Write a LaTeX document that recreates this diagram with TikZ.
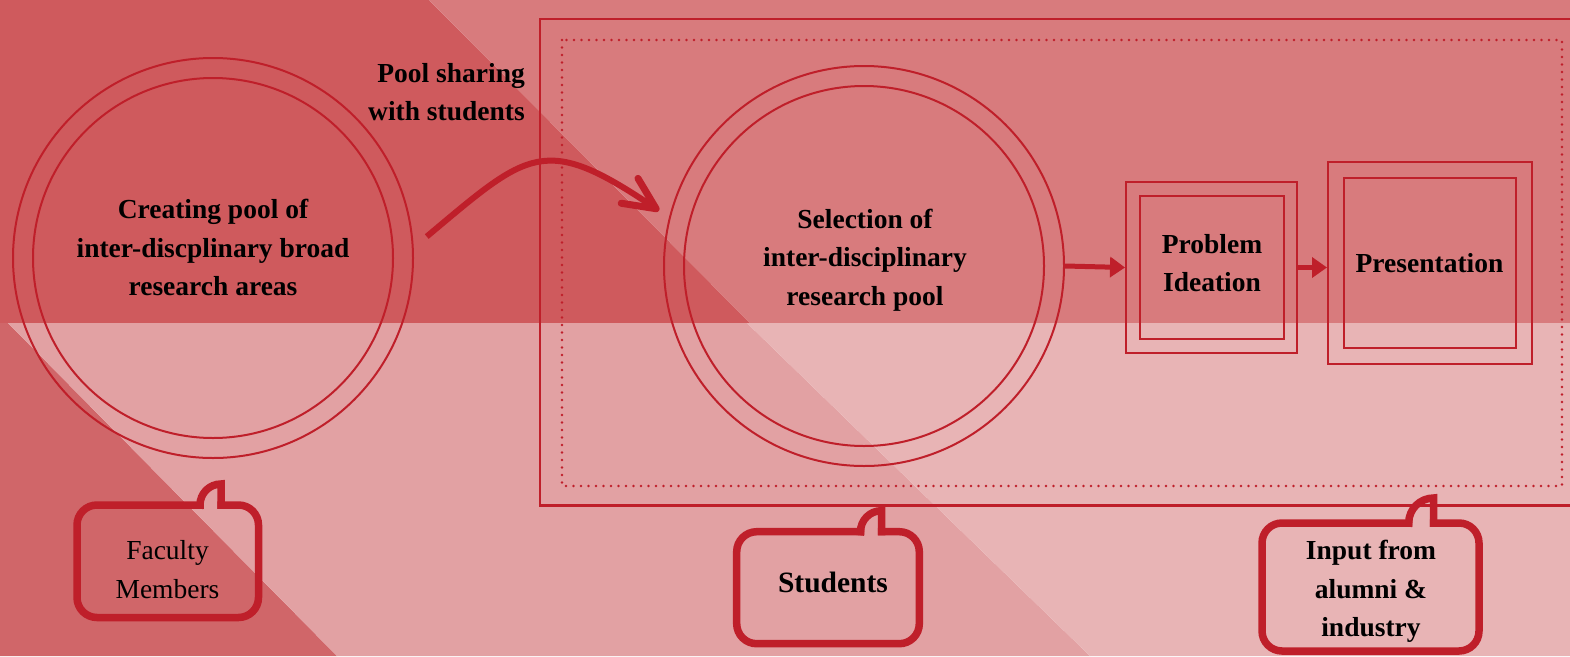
\documentclass[tikz,border=0pt]{standalone}
\usepackage{fontspec}
\setmainfont{Liberation Serif}
\usepackage{xcolor}
\usepackage{tikz}
\usetikzlibrary{positioning,calc,arrows.meta}

\definecolor{deepred}{RGB}{191,31,42}
\definecolor{shadeA}{RGB}{207,90,93}
\definecolor{shadeB}{RGB}{216,123,125}
\definecolor{shadeC}{RGB}{208,102,105}
\definecolor{shadeD}{RGB}{226,161,163}
\definecolor{shadeE}{RGB}{232,180,181}

\begin{document}
\begin{tikzpicture}[x=1pt, y=1pt,
    ring/.style={circle, draw=deepred, line width=2pt, minimum size=#1, inner sep=0pt},
    sqbox/.style 2 args={rectangle, draw=deepred, line width=2pt, minimum width=#1, minimum height=#2, inner sep=0pt},
    label txt/.style={font=\bfseries\fontsize{27.5}{38.5}\selectfont, align=center, inner sep=0pt},
    bubble/.style={draw=deepred, line width=7.5pt, line cap=rect},
    sweep/.style={draw=deepred, line width=6pt, -{Straight Barb[length=32pt, width=30pt, line width=7pt, round]}},
    link/.style={draw=deepred, line width=5pt, -{Triangle[length=15pt, width=20pt]}}
  ]
    \useasboundingbox (0,0) rectangle (1570,-656);

    % Background shades
    \fill [shadeA] (0,0) -- (429,0) -- (750,-323) -- (0,-323) -- cycle;
    \fill [shadeB] (429,0) -- (1570,0) -- (1570,-323) -- (750,-323) -- cycle;
    \fill [shadeC] (0,-323) -- (8,-323) -- (337,-656) -- (0,-656) -- cycle;
    \fill [shadeD] (8,-323) -- (747,-323) -- (1090,-656) -- (337,-656) -- cycle;
    \fill [shadeE] (747,-323) -- (1570,-323) -- (1570,-656) -- (1090,-656) -- cycle;

    % Faculty pool
    \node [ring=400pt] (pool) at (213,-258) {};
    \node [ring=360pt] (poolin) at (pool) {};
    \node [label txt] (pooltxt) at (213,-247.5) {Creating pool of\\inter-discplinary broad\\research areas};
    \node [label txt, align=right, anchor=east] (share) at (525,-92) {Pool sharing\\with students};

    % Student frame
    \draw [deepred, line width=2.5pt] (540,-19) rectangle (1590,-505.5);
    \draw [deepred, line width=2.8pt, line cap=round, dash pattern=on 0pt off 7.5pt] (562,-40) rectangle (1562,-486);

    % Selection
    \node [ring=400pt] (select) at (864,-266) {};
    \node [ring=360pt] (selectin) at (select) {};
    \node [label txt] (selecttxt) at (865,-260) {Selection of\\inter-disciplinary\\research pool};
    \draw [sweep, shorten <=17pt, shorten >=12pt] (pool.3) to [out=40, in=146, looseness=1.5] (select.166);

    % Problem and presentation
    \node [sqbox={171pt}{171pt}] (prob) at (1211.5,-267.5) {};
    \node [sqbox={144pt}{143pt}] (probin) at (prob) {};
    \node [label txt] (probtxt) at (1212,-263) {Problem\\Ideation};
    \node [sqbox={204pt}{202pt}] (pres) at (1430,-263) {};
    \node [sqbox={172pt}{170pt}] (presin) at (pres) {};
    \node [label txt] (prestxt) at (1429.5,-263) {Presentation};
    \draw [link] (select.east) -- (prob.west);
    \draw [link] (prob.east) -- (prob.east -| pres.west);

    % Speech bubbles
    \draw [bubble, rounded corners=20pt] (221,-505) -- (258.5,-505) -- (258.5,-617.5) -- (77,-617.5) -- (77,-505) -- (200,-505);
    \draw [bubble] (200,-505) arc [start angle=180, end angle=90, radius=21pt] -- (221,-505);
    \node [align=center, inner sep=0pt, font=\fontsize{27.5}{38.5}\selectfont] (fac) at (167.5,-569.5) {Faculty\\Members};

    \draw [bubble, rounded corners=20pt] (881.5,-531.7) -- (919.3,-531.7) -- (919.3,-643.7) -- (736.7,-643.7) -- (736.7,-531.7) -- (860.5,-531.7);
    \draw [bubble] (860.5,-531.7) arc [start angle=180, end angle=90, radius=21pt] -- (881.5,-531.7);
    \node [label txt, font=\bfseries\fontsize{29.5}{38.5}\selectfont] (stu) at (833,-582.5) {Students};

    \draw [bubble, rounded corners=20pt] (1433.7,-523) -- (1479,-523) -- (1479,-651) -- (1262,-651) -- (1262,-523) -- (1408.7,-523);
    \draw [bubble] (1408.7,-523) arc [start angle=180, end angle=90, radius=25pt] -- (1433.7,-523);
    \node [label txt] (inp) at (1371,-591.5) {Input from\\alumni \&\\industry};
\end{tikzpicture}
\end{document}
